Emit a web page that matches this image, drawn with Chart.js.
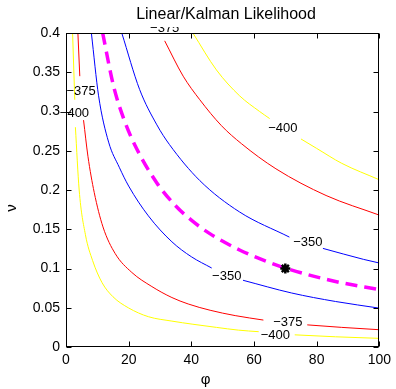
<!DOCTYPE html>
<html>
<head>
<meta charset="utf-8">
<script src="https://cdn.jsdelivr.net/npm/chart.js@4.4.1/dist/chart.umd.min.js"></script>
<style>
body{margin:0;background:#fff;}
canvas{display:block;}
</style>
</head>
<body>
<canvas id="myChart" width="396" height="389"></canvas>
<script>
'use strict';

let xTicks = [0, 20, 40, 60, 80, 100];
let yTicks = [0, 0.05, 0.1, 0.15, 0.2, 0.25, 0.3, 0.35, 0.4];

// contour lines (phi, nu), null = gap where a label sits
let yellowInPhi = [2.1, 2.8, null, 3.0, 4.2, 6.2, 8.5, 11.5, 15, 20, 26.3, 33.8, 40.5, 48, 55, 61.5, null, 73, 86, 100];
let yellowInNu  = [0.4, 0.315, null, 0.28, 0.2, 0.143, 0.11, 0.082, 0.064, 0.0497, 0.0386, 0.033, 0.029, 0.025, 0.0215, 0.0195, null, 0.0155, 0.013, 0.011];

let redInPhi = [3.8, 4.4, null, 5.6, 7, 9.0, 11.8, 15.7, 21, 27.4, 33.8, 39, 46, 54, 63, null, 77, 88, 100];
let redInNu  = [0.4, 0.345, null, 0.289, 0.243, 0.197, 0.153, 0.119, 0.095, 0.077, 0.063, 0.0548, 0.0468, 0.04, 0.0343, null, 0.0282, 0.025, 0.022];

let blueInPhi = [8.1, 10.4, 13.6, 17, 20, 26.3, 33.8, 40, 46.5, null, 56.5, 72, 86, 100];
let blueInNu  = [0.4, 0.32, 0.261, 0.229, 0.205, 0.167, 0.134, 0.115, 0.1006, null, 0.085, 0.0688, 0.058, 0.0495];

let magentaPhi = [11.7, 15.2, 18.4, 22, 29, 35.2, 40.5, 45.9, 55.4, 61.8, 70.4, 86, 100];
let magentaNu  = [0.4, 0.332, 0.291, 0.257, 0.209, 0.179, 0.16, 0.1444, 0.1236, 0.1125, 0.1, 0.0835, 0.073];

let blueOutPhi = [17.8, 23.5, 29, 33, 42.7, 55.4, 71.3, null, 82, 95, 100];
let blueOutNu  = [0.4, 0.328, 0.283, 0.258, 0.212, 0.172, 0.14, null, 0.1256, 0.1116, 0.107];

let redOutPhi = [31.5, 37.4, 42.7, 49.6, 56, 67, 83, 100];
let redOutNu  = [0.39, 0.345, 0.315, 0.282, 0.259, 0.227, 0.193, 0.168];

let yellowOutPhi = [40.5, 48, 55.4, 61.8, 65, null, 75, 80, 88, 100];
let yellowOutNu  = [0.4, 0.353, 0.32, 0.3, 0.291, null, 0.265, 0.253, 0.234, 0.213];

// maximum
let bestPhi = [70];
let bestNu = [0.1];

// contour labels
let labelText = ['\u2212375', '\u2212375', '\u2212400', '\u2212400', '\u2212350', '\u2212350', '\u2212375', '\u2212400'];
let labelPhi  = [31.5, 4.8, 2.7, 69.2, 77.2, 51.3, 70.8, 66.8];
let labelNu   = [0.406, 0.325, 0.297, 0.279, 0.133, 0.090, 0.0308, 0.0153];

let fontFam = '"Liberation Sans", Arial, Helvetica, sans-serif';

function pieces(phi, nu) {
    let out = [];
    let cur = [];
    for (let i = 0; i < phi.length; i++) {
        if (phi[i] === null) {
            out.push(cur);
            cur = [];
        } else {
            cur.push({x: phi[i], y: nu[i]});
        }
    }
    out.push(cur);
    return out;
}

let contours = [
    [yellowInPhi, yellowInNu, '#ffff00', 1, []],
    [redInPhi, redInNu, '#ff0000', 1, []],
    [blueInPhi, blueInNu, '#0000ff', 1, []],
    [magentaPhi, magentaNu, '#ff00ff', 3.5, [12, 7]],
    [blueOutPhi, blueOutNu, '#0000ff', 1, []],
    [redOutPhi, redOutNu, '#ff0000', 1, []],
    [yellowOutPhi, yellowOutNu, '#ffff00', 1, []]
];

let datasets = [{
    data: bestPhi.map((p, i) => ({x: p, y: bestNu[i]})),
    showLine: false,
    pointStyle: 'star',
    pointRadius: 5,
    borderWidth: 2.5,
    borderColor: '#000',
    backgroundColor: '#000'
}];

contours.forEach(c => {
    pieces(c[0], c[1]).forEach(seg => {
        datasets.push({
            data: seg,
            showLine: true,
            borderColor: c[2],
            borderWidth: c[3],
            borderDash: c[4],
            pointRadius: 0,
            cubicInterpolationMode: 'monotone',
            fill: false
        });
    });
});

const decor = {
    id: 'decor',
    afterDatasetsDraw(chart) {
        let ctx = chart.ctx;
        let a = chart.chartArea;
        let xs = chart.scales.x;
        let ys = chart.scales.y;
        ctx.save();
        ctx.strokeStyle = '#000';
        ctx.lineWidth = 1;
        let l = Math.round(a.left) + 0.5, r = Math.round(a.right) - 0.5;
        let t = Math.round(a.top) + 0.5, b = Math.round(a.bottom) - 0.5;
        ctx.strokeRect(l, t, r - l, b - t);
        ctx.beginPath();
        xTicks.forEach(v => {
            let px = Math.round(xs.getPixelForValue(v)) + 0.5;
            ctx.moveTo(px, b); ctx.lineTo(px, b - 5);
            ctx.moveTo(px, t); ctx.lineTo(px, t + 5);
        });
        yTicks.forEach(v => {
            let py = Math.round(ys.getPixelForValue(v)) + 0.5;
            ctx.moveTo(l, py); ctx.lineTo(l + 5, py);
            ctx.moveTo(r, py); ctx.lineTo(r - 5, py);
        });
        ctx.stroke();

        // contour labels
        ctx.fillStyle = '#000';
        ctx.font = '13px ' + fontFam;
        ctx.textAlign = 'center';
        ctx.textBaseline = 'middle';
        for (let i = 0; i < labelText.length; i++) {
            let px = xs.getPixelForValue(labelPhi[i]);
            let py = ys.getPixelForValue(labelNu[i]);
            ctx.save();
            ctx.beginPath();
            ctx.rect(0, 27, chart.width, chart.height);
            ctx.clip();
            ctx.fillText(labelText[i], px, py);
            ctx.restore();
        }

        // title and axis names
        ctx.font = '16px ' + fontFam;
        ctx.fillText('Linear/Kalman Likelihood', 226, 15);
        ctx.font = '15px ' + fontFam;
        ctx.fillText('\u03c6', 205.5, 380);
        ctx.save();
        ctx.translate(12, 208);
        ctx.rotate(-Math.PI / 2);
        ctx.fillText('\u03bd', 0, 0);
        ctx.restore();
        ctx.restore();
    }
};

let ctx = document.getElementById('myChart').getContext('2d');
let myChart = new Chart(ctx, {
    type: 'scatter',
    data: {datasets: datasets},
    options: {
        responsive: false,
        animation: false,
        layout: {padding: {top: 33, right: 16, left: 0, bottom: 0}},
        plugins: {
            legend: {display: false},
            title: {display: false},
            tooltip: {enabled: false}
        },
        scales: {
            x: {
                type: 'linear',
                min: 0,
                max: 100,
                afterBuildTicks: s => { s.ticks = xTicks.map(v => ({value: v})); },
                afterFit: s => { s.height = 42; },
                grid: {display: false, drawTicks: false},
                border: {display: false},
                ticks: {color: '#000', padding: 5, font: {size: 14, family: fontFam}, maxRotation: 0}
            },
            y: {
                type: 'linear',
                min: 0,
                max: 0.4,
                afterBuildTicks: s => { s.ticks = yTicks.map(v => ({value: v})); },
                afterFit: s => { s.width = 66; },
                grid: {display: false, drawTicks: false},
                border: {display: false},
                ticks: {
                    color: '#000',
                    padding: 6,
                    font: {size: 14, family: fontFam},
                    callback: v => String(+v.toFixed(2))
                }
            }
        }
    },
    plugins: [decor]
});
</script>
</body>
</html>
